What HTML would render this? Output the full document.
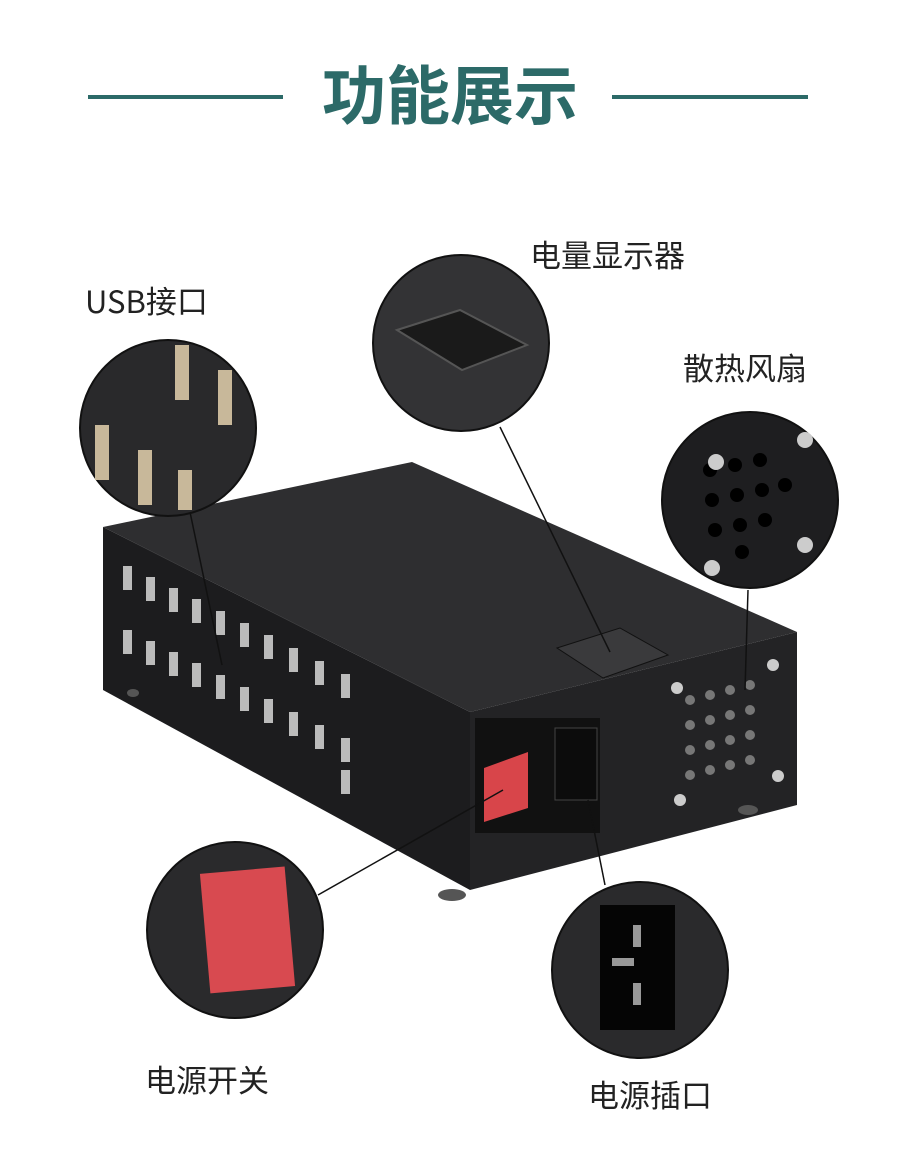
<!DOCTYPE html>
<html><head><meta charset="utf-8"><style>
body{margin:0;background:#fff;width:900px;height:1170px;overflow:hidden;font-family:"Liberation Sans","Noto Sans CJK SC",sans-serif}
</style></head><body>
<svg width="900" height="1170" viewBox="0 0 900 1170" xmlns="http://www.w3.org/2000/svg">
<rect width="900" height="1170" fill="#fff"/>
<line x1="88" y1="97" x2="283" y2="97" stroke="#2c6a68" stroke-width="4"/>
<line x1="612" y1="97" x2="808" y2="97" stroke="#2c6a68" stroke-width="4"/>
<text x="450" y="119" text-anchor="middle" font-size="64" font-weight="bold" fill="#2c6a68" font-family="Noto Sans CJK SC,sans-serif">功能展示</text>
<g font-size="31" fill="#222" font-family="Noto Sans CJK SC,sans-serif">
<text x="85" y="313">USB接口</text>
<text x="530" y="267">电量显示器</text>
<text x="683" y="380">散热风扇</text>
<text x="145" y="1092">电源开关</text>
<text x="588" y="1107">电源插口</text>
</g>
<!-- box -->
<polygon points="103,527 412,462 797,632 470,712" fill="#2e2e30"/>
<polygon points="103,527 470,712 470,890 103,690" fill="#1c1c1e"/>
<polygon points="470,712 797,632 797,805 470,890" fill="#232325"/>
<g fill="#555">
<ellipse cx="133" cy="693" rx="6" ry="4"/><ellipse cx="452" cy="895" rx="14" ry="6"/><ellipse cx="748" cy="810" rx="10" ry="5"/>
</g>
<g fill="#bbb">
<rect x="123" y="566" width="9" height="24"/><rect x="146" y="577" width="9" height="24"/><rect x="169" y="588" width="9" height="24"/><rect x="192" y="599" width="9" height="24"/><rect x="216" y="611" width="9" height="24"/><rect x="240" y="623" width="9" height="24"/><rect x="264" y="635" width="9" height="24"/><rect x="289" y="648" width="9" height="24"/><rect x="315" y="661" width="9" height="24"/><rect x="341" y="674" width="9" height="24"/>
<rect x="123" y="630" width="9" height="24"/><rect x="146" y="641" width="9" height="24"/><rect x="169" y="652" width="9" height="24"/><rect x="192" y="663" width="9" height="24"/><rect x="216" y="675" width="9" height="24"/><rect x="240" y="687" width="9" height="24"/><rect x="264" y="699" width="9" height="24"/><rect x="289" y="712" width="9" height="24"/><rect x="315" y="725" width="9" height="24"/><rect x="341" y="738" width="9" height="24"/>
<rect x="341" y="770" width="9" height="24"/>
</g>
<polygon points="557,648 620,628 668,655 603,678" fill="#3a3a3c" stroke="#111"/>
<rect x="475" y="718" width="125" height="115" fill="#111"/>
<polygon points="484,768 528,752 528,808 484,822" fill="#d8454a"/>
<rect x="555" y="728" width="42" height="72" fill="#0c0c0c" stroke="#444"/>
<g fill="#777">
<circle cx="690" cy="700" r="5"/><circle cx="710" cy="695" r="5"/><circle cx="730" cy="690" r="5"/><circle cx="750" cy="685" r="5"/>
<circle cx="690" cy="725" r="5"/><circle cx="710" cy="720" r="5"/><circle cx="730" cy="715" r="5"/><circle cx="750" cy="710" r="5"/>
<circle cx="690" cy="750" r="5"/><circle cx="710" cy="745" r="5"/><circle cx="730" cy="740" r="5"/><circle cx="750" cy="735" r="5"/>
<circle cx="690" cy="775" r="5"/><circle cx="710" cy="770" r="5"/><circle cx="730" cy="765" r="5"/><circle cx="750" cy="760" r="5"/>
<circle cx="677" cy="688" r="6" fill="#ccc"/><circle cx="773" cy="665" r="6" fill="#ccc"/><circle cx="680" cy="800" r="6" fill="#ccc"/><circle cx="778" cy="776" r="6" fill="#ccc"/>
</g>
<g stroke="#111" stroke-width="1.5">
<line x1="190" y1="512" x2="222" y2="665"/>
<line x1="500" y1="427" x2="610" y2="652"/>
<line x1="748" y1="590" x2="745" y2="690"/>
<line x1="318" y1="895" x2="503" y2="790"/>
<line x1="588" y1="800" x2="605" y2="885"/>
</g>
<g stroke="#111" stroke-width="2">
<circle cx="168" cy="428" r="88" fill="#29292b"/>
<circle cx="461" cy="343" r="88" fill="#333335"/>
<circle cx="750" cy="500" r="88" fill="#1e1e20"/>
<circle cx="235" cy="930" r="88" fill="#2a2a2c"/>
<circle cx="640" cy="970" r="88" fill="#2a2a2c"/>
</g>
<g fill="#c8b89a">
<rect x="175" y="345" width="14" height="55"/><rect x="218" y="370" width="14" height="55"/><rect x="95" y="425" width="14" height="55"/><rect x="138" y="450" width="14" height="55"/><rect x="178" y="470" width="14" height="40"/>
</g>
<polygon points="397,330 460,310 527,345 462,370" fill="#1a1a1a" stroke="#555" stroke-width="2"/>
<g fill="#000"><circle cx="710" cy="470" r="7"/><circle cx="735" cy="465" r="7"/><circle cx="760" cy="460" r="7"/><circle cx="712" cy="500" r="7"/><circle cx="737" cy="495" r="7"/><circle cx="762" cy="490" r="7"/><circle cx="785" cy="485" r="7"/><circle cx="715" cy="530" r="7"/><circle cx="740" cy="525" r="7"/><circle cx="765" cy="520" r="7"/><circle cx="742" cy="552" r="7"/></g>
<g fill="#ccc"><circle cx="716" cy="462" r="8"/><circle cx="805" cy="440" r="8"/><circle cx="712" cy="568" r="8"/><circle cx="805" cy="545" r="8"/></g>
<rect x="205" y="870" width="85" height="120" fill="#d84a50" transform="rotate(-5 247 930)"/>
<rect x="600" y="905" width="75" height="125" fill="#050505"/>
<rect x="633" y="925" width="8" height="22" fill="#999"/><rect x="612" y="958" width="22" height="8" fill="#999"/><rect x="633" y="983" width="8" height="22" fill="#999"/>
</svg>
</body></html>
